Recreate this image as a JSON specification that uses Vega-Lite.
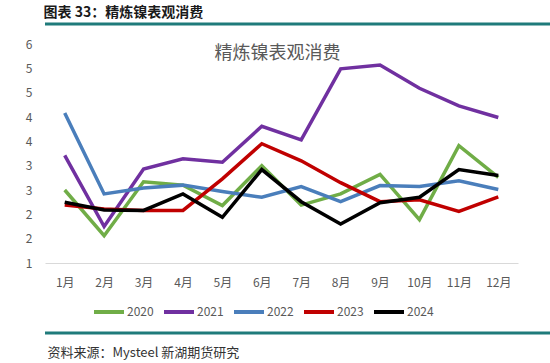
{
  "$schema": "https://vega.github.io/schema/vega-lite/v6.json",
  "padding": {"left": 13, "top": 5, "right": 0, "bottom": 0},
  "background": "white",
  "config": {
    "view": {"stroke": null},
    "font": "Noto Sans CJK SC"
  },
  "align": "none",
  "spacing": 5,
  "resolve": {"legend": {"color": "independent"}},
  "datasets": {
    "series": [
      {"month": "1月", "year": "2020", "value": 3.0},
      {"month": "2月", "year": "2020", "value": 2.06},
      {"month": "3月", "year": "2020", "value": 3.17},
      {"month": "4月", "year": "2020", "value": 3.1},
      {"month": "5月", "year": "2020", "value": 2.68},
      {"month": "6月", "year": "2020", "value": 3.5},
      {"month": "7月", "year": "2020", "value": 2.69},
      {"month": "8月", "year": "2020", "value": 2.92},
      {"month": "9月", "year": "2020", "value": 3.32},
      {"month": "10月", "year": "2020", "value": 2.39},
      {"month": "11月", "year": "2020", "value": 3.91},
      {"month": "12月", "year": "2020", "value": 3.26},
      {"month": "1月", "year": "2021", "value": 3.71},
      {"month": "2月", "year": "2021", "value": 2.25},
      {"month": "3月", "year": "2021", "value": 3.43},
      {"month": "4月", "year": "2021", "value": 3.64},
      {"month": "5月", "year": "2021", "value": 3.57},
      {"month": "6月", "year": "2021", "value": 4.31},
      {"month": "7月", "year": "2021", "value": 4.03},
      {"month": "8月", "year": "2021", "value": 5.49},
      {"month": "9月", "year": "2021", "value": 5.57},
      {"month": "10月", "year": "2021", "value": 5.09},
      {"month": "11月", "year": "2021", "value": 4.73},
      {"month": "12月", "year": "2021", "value": 4.49},
      {"month": "1月", "year": "2022", "value": 4.58},
      {"month": "2月", "year": "2022", "value": 2.92},
      {"month": "3月", "year": "2022", "value": 3.04},
      {"month": "4月", "year": "2022", "value": 3.1},
      {"month": "5月", "year": "2022", "value": 2.97},
      {"month": "6月", "year": "2022", "value": 2.85},
      {"month": "7月", "year": "2022", "value": 3.07},
      {"month": "8月", "year": "2022", "value": 2.76},
      {"month": "9月", "year": "2022", "value": 3.09},
      {"month": "10月", "year": "2022", "value": 3.07},
      {"month": "11月", "year": "2022", "value": 3.19},
      {"month": "12月", "year": "2022", "value": 3.01},
      {"month": "1月", "year": "2023", "value": 2.69},
      {"month": "2月", "year": "2023", "value": 2.61},
      {"month": "3月", "year": "2023", "value": 2.58},
      {"month": "4月", "year": "2023", "value": 2.58},
      {"month": "5月", "year": "2023", "value": 3.23},
      {"month": "6月", "year": "2023", "value": 3.95},
      {"month": "7月", "year": "2023", "value": 3.6},
      {"month": "8月", "year": "2023", "value": 3.15},
      {"month": "9月", "year": "2023", "value": 2.76},
      {"month": "10月", "year": "2023", "value": 2.8},
      {"month": "11月", "year": "2023", "value": 2.56},
      {"month": "12月", "year": "2023", "value": 2.86},
      {"month": "1月", "year": "2024", "value": 2.75},
      {"month": "2月", "year": "2024", "value": 2.59},
      {"month": "3月", "year": "2024", "value": 2.58},
      {"month": "4月", "year": "2024", "value": 2.92},
      {"month": "5月", "year": "2024", "value": 2.44},
      {"month": "6月", "year": "2024", "value": 3.42},
      {"month": "7月", "year": "2024", "value": 2.76},
      {"month": "8月", "year": "2024", "value": 2.3},
      {"month": "9月", "year": "2024", "value": 2.74},
      {"month": "10月", "year": "2024", "value": 2.85},
      {"month": "11月", "year": "2024", "value": 3.42},
      {"month": "12月", "year": "2024", "value": 3.3}
    ],
    "ruleTop": [{"y": 1}],
    "ruleBottom": [{"y": 0}]
  },
  "vconcat": [
    {
      "width": 513,
      "height": 9,
      "title": {"text": "图表 33：精炼镍表观消费", "anchor": "start", "fontSize": 14, "fontWeight": "bold", "color": "#1a1a1a", "offset": 3},
      "data": {"name": "ruleTop"},
      "mark": {"type": "rule", "color": "#1f7b7b", "strokeWidth": 3},
      "encoding": {"y": {"field": "y", "type": "quantitative", "axis": null, "scale": {"domain": [0, 1]}}}
    },
    {
      "width": 473,
      "height": 219,
      "title": {"text": "精炼镍表观消费", "anchor": "middle", "fontSize": 18, "fontWeight": "normal", "color": "#595959", "offset": -25, "dx": -4},
      "data": {"name": "series"},
      "mark": {"type": "line", "strokeWidth": 3.5},
      "encoding": {
        "x": {
          "field": "month", "type": "ordinal",
          "sort": ["1月","2月","3月","4月","5月","6月","7月","8月","9月","10月","11月","12月"],
          "scale": {"type": "point", "padding": 0.5},
          "axis": {"title": null, "labelAngle": 0, "ticks": false, "domainColor": "#d9d9d9", "domainWidth": 1, "labelColor": "#595959", "labelFontSize": 12, "labelPadding": 14}
        },
        "y": {
          "field": "value", "type": "quantitative",
          "scale": {"domain": [1.5, 6], "nice": false, "zero": false},
          "axis": {"title": null, "values": [1.5, 2, 2.5, 3, 3.5, 4, 4.5, 5, 5.5, 6], "labelExpr": "floor(datum.value)", "grid": false, "domain": false, "ticks": false, "labelColor": "#595959", "labelFontSize": 12, "labelPadding": 13, "minExtent": 32}
        },
        "color": {
          "field": "year", "type": "nominal",
          "scale": {"domain": ["2020","2021","2022","2023","2024"], "range": ["#70ad47","#7030a0","#4a7ebb","#c00000","#000000"]},
          "legend": {"orient": "none", "legendX": 47, "legendY": 251, "direction": "horizontal", "title": null, "symbolType": "stroke", "symbolSize": 900, "symbolStrokeWidth": 4, "labelFontSize": 12, "labelColor": "#595959", "columnPadding": 2, "labelOffset": 1}
        }
      }
    },
    {
      "width": 537,
      "height": 8,
      "title": {"text": "资料来源：Mysteel 新湖期货研究", "orient": "bottom", "anchor": "start", "fontSize": 13, "fontWeight": "normal", "color": "#333333", "offset": 12, "dx": 4},
      "data": {"name": "ruleBottom"},
      "mark": {"type": "rule", "color": "#1f7b7b", "strokeWidth": 3},
      "encoding": {"y": {"field": "y", "type": "quantitative", "axis": null, "scale": {"domain": [0, 1]}}}
    }
  ]
}
